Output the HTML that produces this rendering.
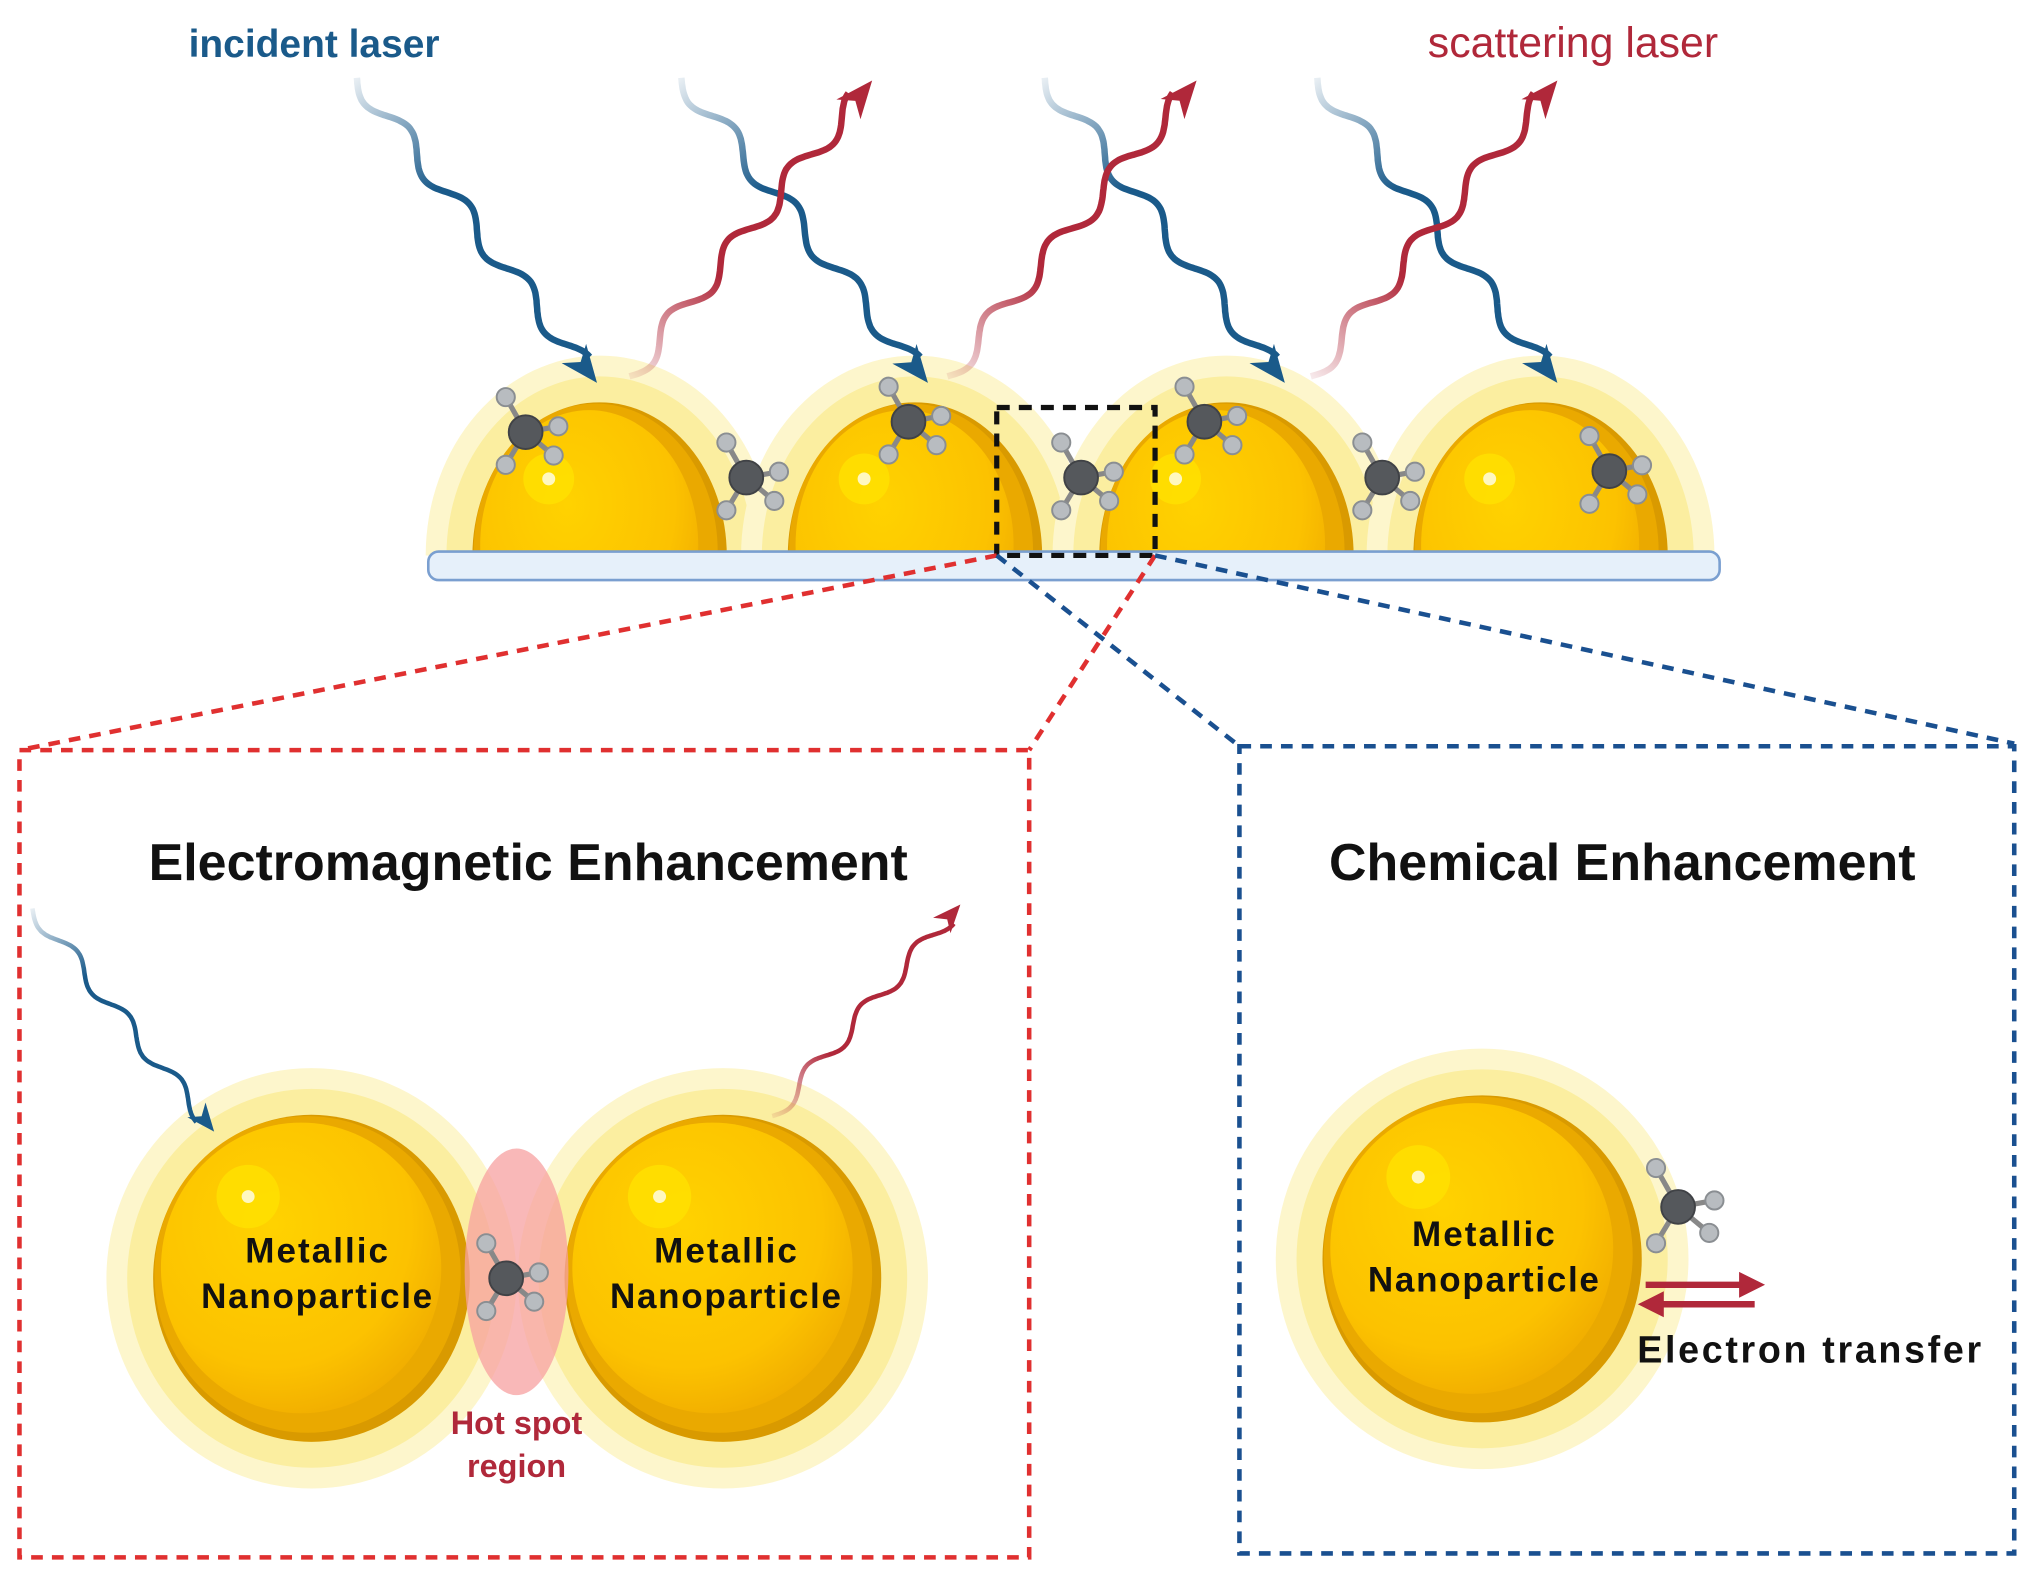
<!DOCTYPE html>
<html><head><meta charset="utf-8"><style>
html,body{margin:0;padding:0;background:#fff;width:2035px;height:1582px;overflow:hidden}
svg{display:block}
text{font-family:"Liberation Sans",sans-serif}
</style></head><body>
<svg id="s" width="2035" height="1582" viewBox="0 0 1568 1219" preserveAspectRatio="none" xmlns="http://www.w3.org/2000/svg">
<defs>
<radialGradient id="gold" cx="0.4" cy="0.35" r="0.7">
<stop offset="0" stop-color="#ffd200"/><stop offset="0.7" stop-color="#fcc200"/><stop offset="1" stop-color="#f0ac00"/>
</radialGradient>
</defs>
<g id="bg"></g>
<text x="242" y="44" font-size="30" fill="#1a5a8a" text-anchor="middle" font-weight="bold">incident laser</text>
<text x="1212" y="44" font-size="33" fill="#b0283a" text-anchor="middle">scattering laser</text>
<text x="407" y="678" font-size="40" font-weight="bold" text-anchor="middle" fill="#111" textLength="585">Electromagnetic Enhancement</text>
<text x="1250" y="678" font-size="40" font-weight="bold" text-anchor="middle" fill="#111" textLength="452">Chemical Enhancement</text>
</svg>
<script>
const NS="http://www.w3.org/2000/svg",g=document.getElementById('bg');
function el(t,a,p){const e=document.createElementNS(NS,t);for(const k in a)e.setAttribute(k,a[k]);(p||g).appendChild(e);return e;}
let gid=0;
function wave(x1,y1,x2,y2,col,amp,n,w,fadeStart,ah){
 ah=ah||1;
 const dx=x2-x1,dy=y2-y1,L=Math.hypot(dx,dy),ux=dx/L,uy=dy/L,nx=-uy,ny=ux;let d="";
 for(let i=0;i<=160;i++){const t=i/160*(L-16*ah);const o=amp*Math.sin(t/L*n*2*Math.PI);const x=x1+ux*t+nx*o,y=y1+uy*t+ny*o;d+=(i?"L":"M")+x.toFixed(1)+","+y.toFixed(1);}
 const id="lg"+(gid++);const lg=el('linearGradient',{id:id,gradientUnits:"userSpaceOnUse",x1:x1,y1:y1,x2:x2,y2:y2},document.querySelector('defs'));
 el('stop',{offset:0,'stop-color':col,'stop-opacity':0.1},lg);el('stop',{offset:fadeStart,'stop-color':col,'stop-opacity':1},lg);el('stop',{offset:1,'stop-color':col},lg);
 el('path',{d:d,fill:"none",stroke:"url(#"+id+")","stroke-width":w});
 const tx=x2,ty=y2,bx=x2-ux*24*ah,by=y2-uy*24*ah,hw=10*ah;
 el('polygon',{points:`${tx},${ty} ${bx+nx*hw},${by+ny*hw} ${x2-ux*17*ah},${y2-uy*17*ah} ${bx-nx*hw},${by-ny*hw}`,fill:col});
}
function glowCircle(cx,cy,rx,ry,clip){
 el('ellipse',{cx:cx,cy:cy,rx:rx+36,ry:ry+36,fill:"#fdf6cc",'clip-path':clip});
 el('ellipse',{cx:cx,cy:cy,rx:rx+20,ry:ry+20,fill:"#fbeea0",'clip-path':clip});
 el('ellipse',{cx:cx,cy:cy,rx:rx,ry:ry,fill:"#d99a00",'clip-path':clip});
 el('ellipse',{cx:cx-3,cy:cy-3,rx:rx-4,ry:ry-4,fill:"#eaa900",'clip-path':clip});
 el('ellipse',{cx:cx-8,cy:cy-8,rx:rx-14,ry:ry-14,fill:"url(#gold)",'clip-path':clip});
 el('circle',{cx:cx-rx*0.4,cy:cy-ry*0.5,r:rx*0.2,fill:"#ffe100",opacity:0.8,'clip-path':clip});
 el('circle',{cx:cx-rx*0.4,cy:cy-ry*0.5,r:5,fill:"#fff8c0",'clip-path':clip});
}
function mol(x,y,s){s=s||1;const hs=[[-17,-30],[28,-5],[24,20],[-17,28]];
 hs.forEach(h=>el('line',{x1:x,y1:y,x2:x+h[0]*s,y2:y+h[1]*s,stroke:"#888","stroke-width":4}));
 hs.forEach(h=>el('circle',{cx:x+h[0]*s,cy:y+h[1]*s,r:7,fill:"#b8bcc0",stroke:"#8a8e92","stroke-width":1.5}));
 el('circle',{cx:x,cy:y,r:13,fill:"#55585c",stroke:"#404246","stroke-width":1.5});}
const cp=el('clipPath',{id:"top"},document.querySelector('defs'));el('rect',{x:0,y:0,width:1568,height:428},cp);
[462,705,945,1187].forEach(cx=>glowCircle(cx,428,98,118,"url(#top)"));
el('rect',{x:330,y:425,width:995,height:22,rx:8,fill:"#e6f0fa",stroke:"#7a9fd0","stroke-width":2});
[[405,333],[575,368],[700,325],[833,368],[928,325],[1065,368],[1240,363]].forEach(p=>mol(p[0],p[1],0.9));
[[275,60,460,295],[525,60,715,295],[805,60,990,295],[1015,60,1200,295]].forEach(a=>wave(a[0],a[1],a[2],a[3],"#1a5a8a",8,4,5,0.35,1.2));
[[485,290,672,62],[730,290,922,62],[1010,290,1200,62]].forEach(a=>wave(a[0],a[1],a[2],a[3],"#b0283a",8,4,5,0.35,1.2));
el('rect',{x:768,y:314,width:122,height:114,fill:"none",stroke:"#111","stroke-width":4,"stroke-dasharray":"10 7"});
const dR={stroke:"#e03030","stroke-width":3.5,"stroke-dasharray":"9 7",fill:"none"},dB={stroke:"#1a5090","stroke-width":3.5,"stroke-dasharray":"9 7",fill:"none"};
el('line',Object.assign({x1:768,y1:428,x2:15,y2:578},dR));el('line',Object.assign({x1:890,y1:428,x2:793,y2:578},dR));
el('line',Object.assign({x1:768,y1:428,x2:955,y2:575},dB));el('line',Object.assign({x1:890,y1:428,x2:1552,y2:573},dB));
el('rect',Object.assign({x:15,y:578,width:778,height:622},dR));
el('rect',Object.assign({x:955,y:575,width:597,height:622},dB));
glowCircle(240,985,122,126);glowCircle(557,985,122,126);
el('ellipse',{cx:398,cy:980,rx:40,ry:95,fill:"#f7a0a0",opacity:0.75});
mol(390,985,0.9);
wave(25,700,165,872,"#1a5a8a",6,3.5,3.5,0.3,0.9);
wave(595,860,740,697,"#b0283a",6,3.5,3.5,0.3,0.9);
glowCircle(1142,970,123,126);
mol(1293,930,1);
el('line',{x1:1268,y1:990,x2:1345,y2:990,stroke:"#b0283a","stroke-width":5});
el('polygon',{points:"1360,990 1340,980 1340,1000",fill:"#b0283a"});
el('line',{x1:1277,y1:1005,x2:1352,y2:1005,stroke:"#b0283a","stroke-width":5});
el('polygon',{points:"1262,1005 1282,995 1282,1015",fill:"#b0283a"});
function txt(x,y,s,t,c,w,tl){const a={x:x,y:y,'font-size':s,'text-anchor':"middle",fill:c,'font-weight':w};if(tl)a.textLength=tl;const e=el('text',a);e.textContent=t;document.getElementById('s').appendChild(e);}
txt(244,973,27,"Metallic","#111","bold",110);txt(244,1008,27,"Nanoparticle","#111","bold",178);
txt(559,973,27,"Metallic","#111","bold",110);txt(559,1008,27,"Nanoparticle","#111","bold",178);
txt(1143,960,27,"Metallic","#111","bold",110);txt(1143,995,27,"Nanoparticle","#111","bold",178);
txt(398,1105,25,"Hot spot","#b0283a","bold");txt(398,1138,25,"region","#b0283a","bold");
txt(1394,1050,29,"Electron transfer","#111","bold",265);
</script>
</body></html>
